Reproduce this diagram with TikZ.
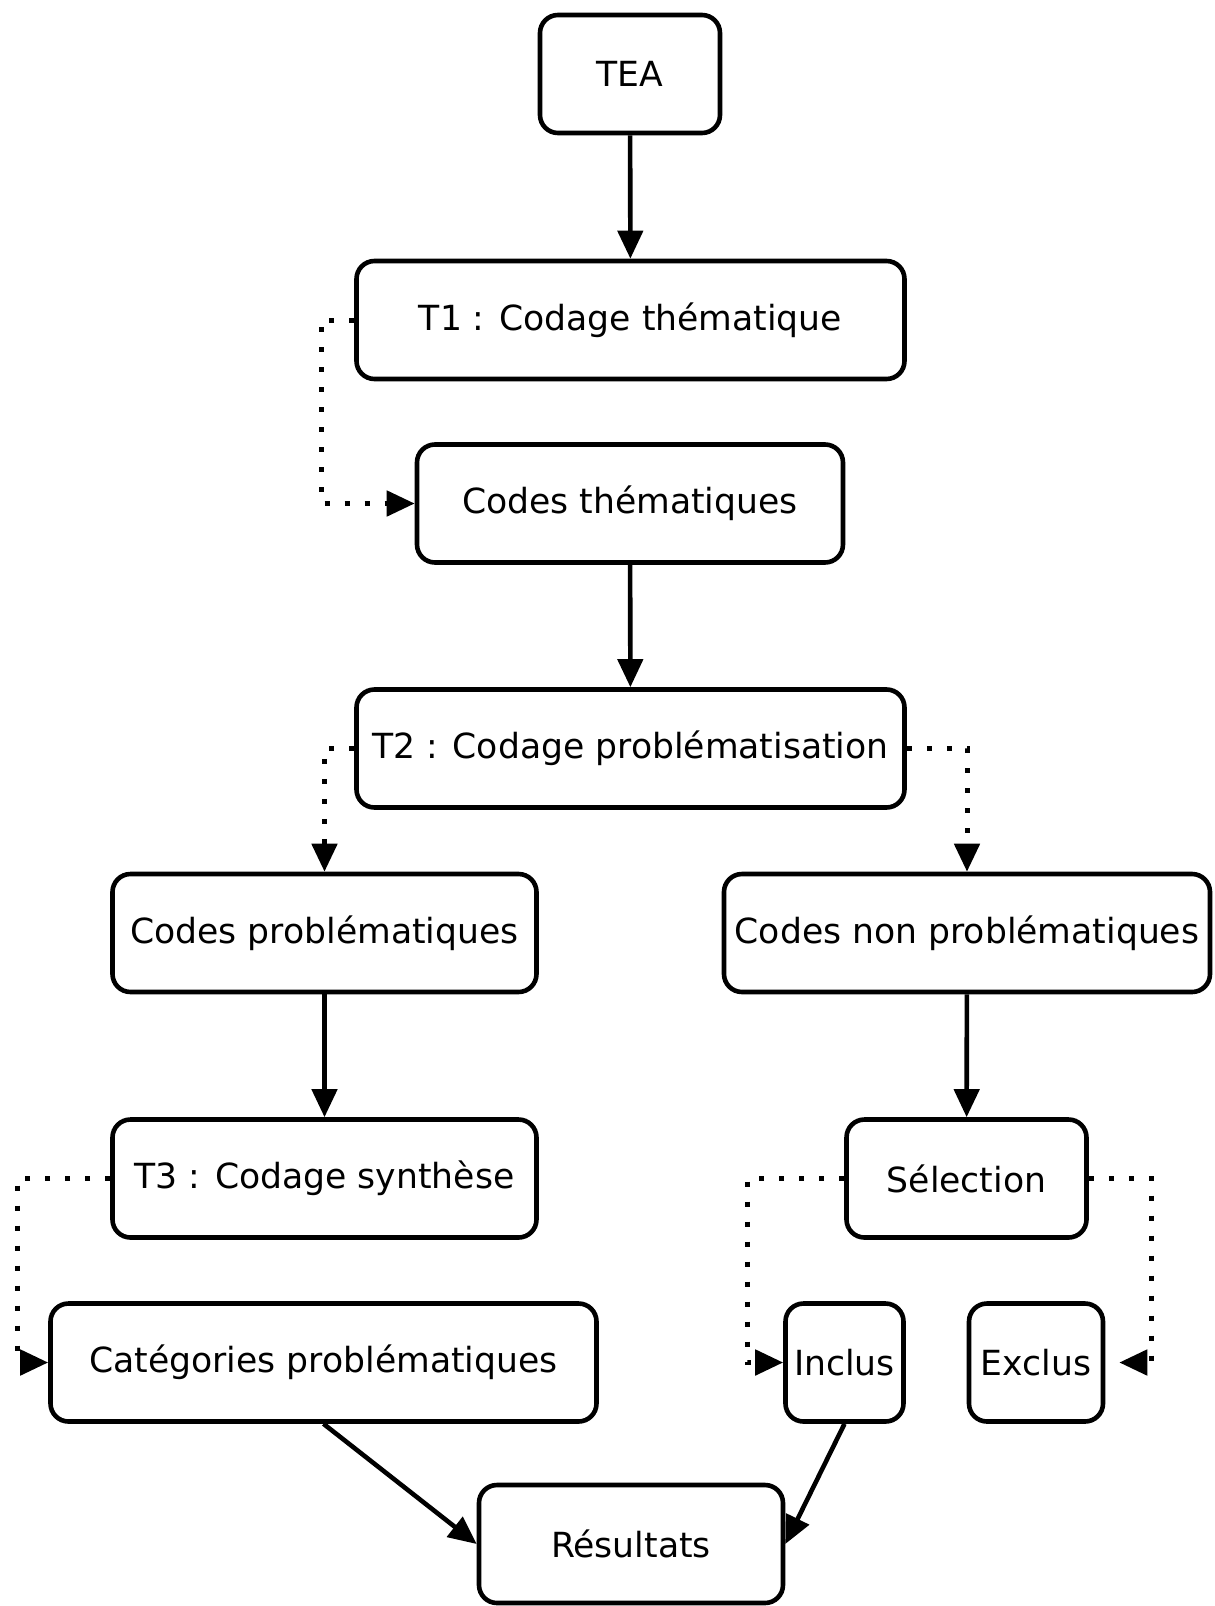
\documentclass[tikz,border=0pt]{standalone}
\usepackage{fontspec}
\setmainfont{DejaVu Sans}
\usetikzlibrary{arrows.meta}

\begin{document}
\begin{tikzpicture}[x=0.5pt, y=-0.5pt, line width=2.3pt,
	box/.style={draw, rounded corners=9pt, minimum height=59pt, inner sep=0pt, font=\fontsize{17.3}{20}\selectfont},
	flow/.style={-{Triangle[length=14pt,width=12.5pt]}},
	dots/.style={flow, line width=2.5pt, dash pattern=on 2.5pt off 7.5pt}]
	\useasboundingbox (0,0) rectangle (1215,1606);

	\node (tea) at (630,74) [box, minimum width=90pt] {TEA};
	\node (t1) at (630.5,320) [box, minimum width=274pt] {T1 : Codage thématique};
	\node (ct) at (630,503.5) [box, minimum width=213pt] {Codes thématiques};
	\node (t2) at (630.5,748.5) [box, minimum width=274pt] {T2 : Codage problématisation};

	%left branch
	\node (cp) at (324.5,933) [box, minimum width=212pt] {Codes problématiques};
	\node (t3) at (324.5,1178.5) [box, minimum width=212pt] {T3 : Codage synthèse};
	\node (cat) at (323.5,1362.5) [box, minimum width=273pt] {Catégories problématiques};

	%right branch
	\node (cnp) at (967,933) [box, minimum width=243pt] {Codes non problématiques};
	\node (sel) at (966.5,1178.5) [box, minimum width=120pt] {Sélection};
	\node (inc) at (844.5,1362.5) [box, minimum width=59pt] {Inclus};
	\node (exc) at (1036,1362.5) [box, minimum width=67pt] {Exclus};

	\node (res) at (631,1544) [box, minimum width=152pt] {Résultats};

	\draw [flow] (tea) -- (t1);
	\draw [flow] (ct) -- (t2);
	\draw [flow] (cp) -- (t3);
	\draw [flow] (cnp) -- (sel);
	\draw [flow] (cat.south) -- (res.west);
	\draw [flow] (inc.south) -- (res.east);

	\draw [dots] (t1.west) -- ++(-33,0) |- (ct.west);
	\draw [dots] (t2.west) -| (cp.north);
	\draw [dots] (t2.east) -| (cnp.north);
	\draw [dots] (t3.west) -- ++(-93,0) |- (cat.west);
	\draw [dots] (sel.west) -- ++(-97,0) |- (inc.west);
	\draw [dots, shorten >=7pt] (sel.east) -- ++(63,0) |- (exc.east);

\end{tikzpicture}
\end{document}
